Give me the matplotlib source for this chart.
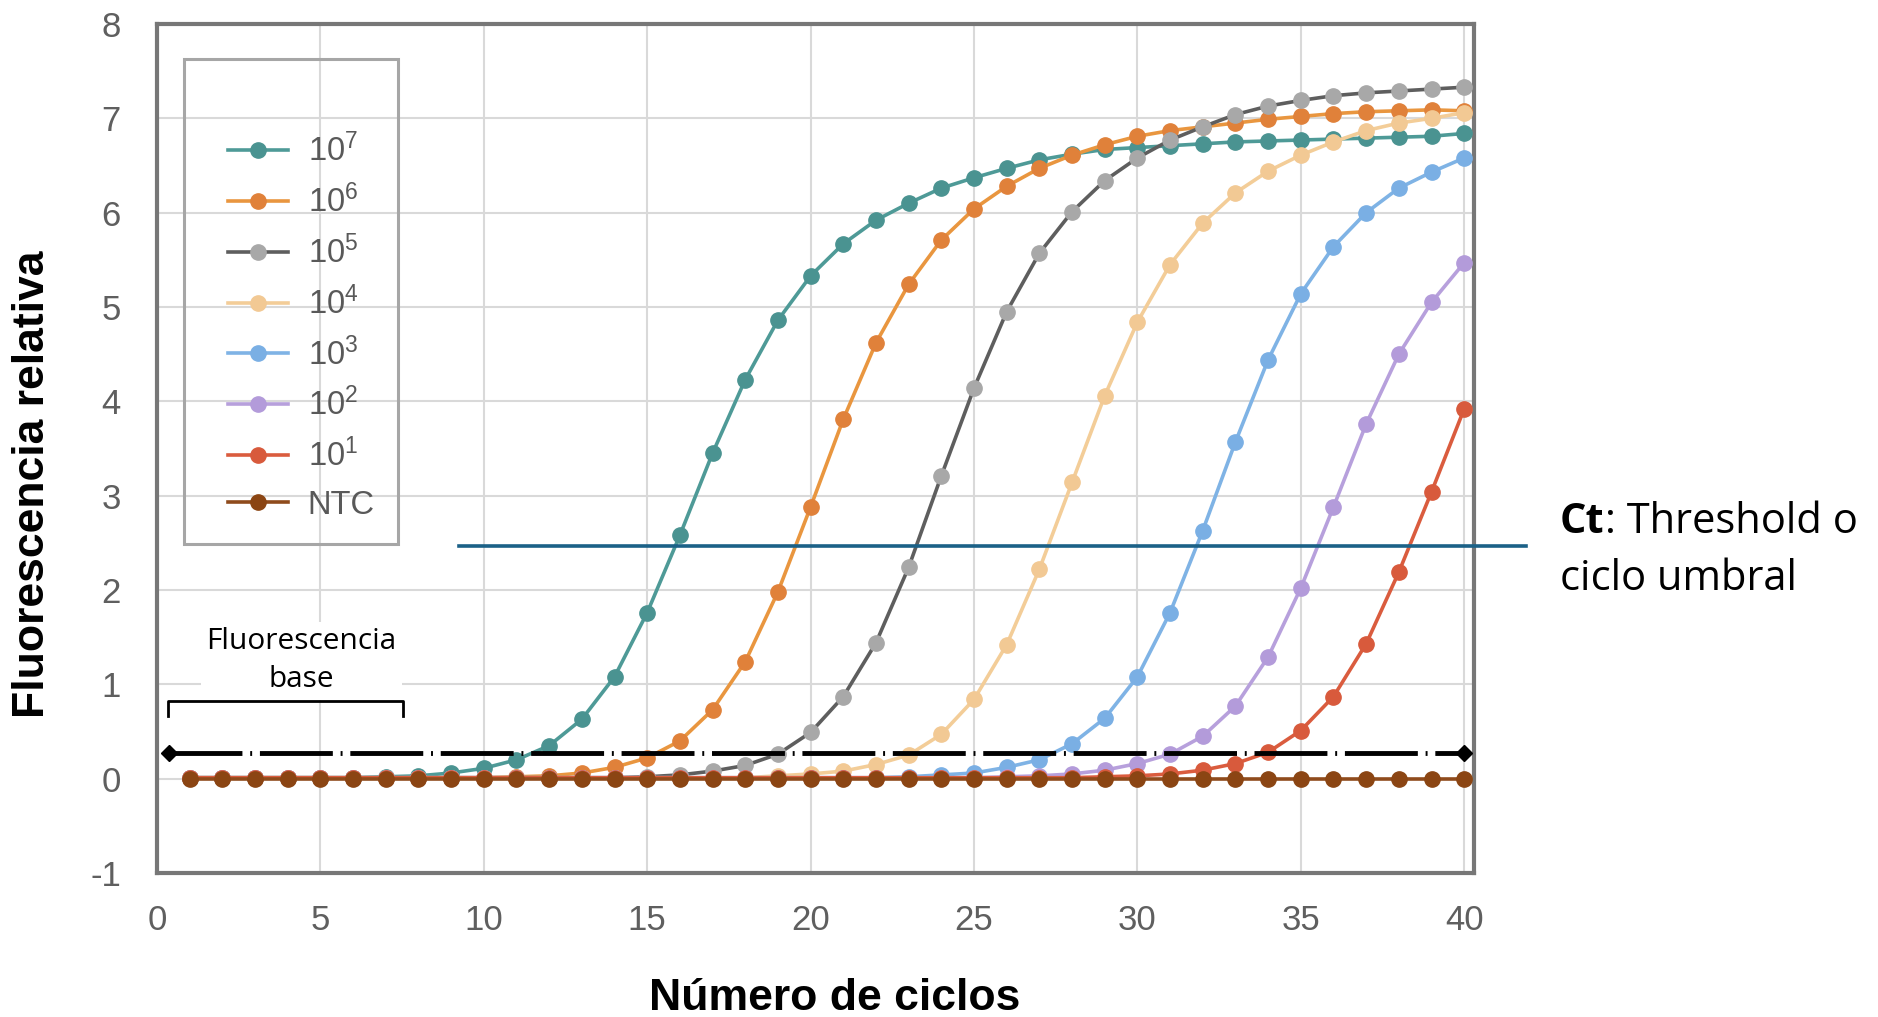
import matplotlib.pyplot as plt

# qPCR amplification curves
cycles = list(range(1, 41))

s_1e7 = [0.01, 0.01, 0.01, 0.01, 0.01, 0.01, 0.02, 0.03, 0.06, 0.11,
         0.20, 0.35, 0.63, 1.08, 1.76, 2.58, 3.45, 4.23, 4.86, 5.33,
         5.67, 5.92, 6.10, 6.26, 6.37, 6.47, 6.56, 6.62, 6.67, 6.69,
         6.71, 6.73, 6.75, 6.76, 6.77, 6.78, 6.79, 6.80, 6.81, 6.84]
s_1e6 = [0.01, 0.01, 0.01, 0.01, 0.01, 0.01, 0.01, 0.01, 0.01, 0.01,
         0.02, 0.03, 0.06, 0.12, 0.22, 0.40, 0.73, 1.24, 1.98, 2.88,
         3.81, 4.62, 5.24, 5.71, 6.04, 6.28, 6.47, 6.61, 6.72, 6.81,
         6.87, 6.91, 6.95, 6.99, 7.02, 7.05, 7.07, 7.08, 7.09, 7.08]
s_1e5 = [0.01, 0.01, 0.01, 0.01, 0.01, 0.01, 0.01, 0.01, 0.01, 0.01,
         0.01, 0.01, 0.01, 0.01, 0.02, 0.04, 0.08, 0.14, 0.26, 0.49,
         0.87, 1.44, 2.24, 3.21, 4.14, 4.95, 5.57, 6.01, 6.34, 6.58,
         6.77, 6.91, 7.04, 7.13, 7.19, 7.24, 7.27, 7.29, 7.31, 7.33]
s_1e4 = [0.01, 0.01, 0.01, 0.01, 0.01, 0.01, 0.01, 0.01, 0.01, 0.01,
         0.01, 0.01, 0.01, 0.01, 0.01, 0.01, 0.01, 0.01, 0.03, 0.05,
         0.08, 0.15, 0.25, 0.47, 0.84, 1.42, 2.22, 3.14, 4.06, 4.84,
         5.45, 5.89, 6.21, 6.44, 6.61, 6.75, 6.87, 6.95, 7.00, 7.06]
s_1e3 = [0.01, 0.01, 0.01, 0.01, 0.01, 0.01, 0.01, 0.01, 0.01, 0.01,
         0.01, 0.01, 0.01, 0.01, 0.01, 0.01, 0.01, 0.01, 0.01, 0.01,
         0.01, 0.01, 0.02, 0.04, 0.06, 0.12, 0.20, 0.37, 0.64, 1.08,
         1.76, 2.63, 3.57, 4.44, 5.14, 5.64, 6.00, 6.26, 6.43, 6.58]
s_1e2 = [0.01, 0.01, 0.01, 0.01, 0.01, 0.01, 0.01, 0.01, 0.01, 0.01,
         0.01, 0.01, 0.01, 0.01, 0.01, 0.01, 0.01, 0.01, 0.01, 0.01,
         0.01, 0.01, 0.01, 0.01, 0.01, 0.02, 0.03, 0.05, 0.09, 0.16,
         0.26, 0.45, 0.77, 1.29, 2.02, 2.88, 3.76, 4.50, 5.05, 5.47]
s_1e1 = [0.01, 0.01, 0.01, 0.01, 0.01, 0.01, 0.01, 0.01, 0.01, 0.01,
         0.01, 0.01, 0.01, 0.01, 0.01, 0.01, 0.01, 0.01, 0.01, 0.01,
         0.01, 0.01, 0.01, 0.01, 0.01, 0.01, 0.01, 0.01, 0.02, 0.03,
         0.05, 0.09, 0.16, 0.28, 0.51, 0.87, 1.43, 2.19, 3.04, 3.92]
s_ntc = [0.0] * 40

series = [s_1e7, s_1e6, s_1e5, s_1e4, s_1e3, s_1e2, s_1e1, s_ntc]
labels = [r'$\mathregular{10^{7}}$', r'$\mathregular{10^{6}}$',
          r'$\mathregular{10^{5}}$', r'$\mathregular{10^{4}}$',
          r'$\mathregular{10^{3}}$', r'$\mathregular{10^{2}}$',
          r'$\mathregular{10^{1}}$', 'NTC']
line_colors = ['#4E9A97', '#E9963F', '#5E5E5E', '#F3CD98',
               '#7FB3E5', '#B7A0DC', '#DA5C3E', '#8F4B1C']
marker_colors = ['#4A9391', '#E0813A', '#A8A8A8', '#F2C994',
                 '#7AAFE4', '#B39BDA', '#D85A3C', '#8B4513']

# annotations
threshold = 2.47
threshold_x = [9.24, 41.9]
baseline = 0.27
baseline_x = [0.37, 40.0]
bracket_x = [0.34, 0.34, 7.53, 7.53]
bracket_y = [0.66, 0.82, 0.82, 0.66]

plt.rcParams['font.family'] = ['Liberation Sans', 'DejaVu Sans']
plt.rcParams['mathtext.fontset'] = 'custom'
plt.rcParams['mathtext.rm'] = 'Liberation Sans'
plt.rcParams['axes.unicode_minus'] = False

W, H = 1878, 1017
fig = plt.figure(figsize=(W / 100, H / 100), dpi=100)
ax = fig.add_axes([157 / W, 144 / H, 1317 / W, 849 / H])

for vals, lab, lc, mc in zip(series, labels, line_colors, marker_colors):
    ax.plot(cycles, vals, color=lc, lw=2.6, marker='o', markersize=11,
            markerfacecolor=mc, markeredgecolor=mc, label=lab, zorder=3)

# baseline (dashed) with diamond ends
ax.plot(baseline_x, [baseline, baseline], color='black', lw=3.5,
        dashes=(15, 1.6, 0.4, 1.6), zorder=5)
ax.plot(baseline_x, [baseline, baseline], ls='none', marker='D',
        markersize=8, color='black', zorder=5)

# threshold line, runs past the right spine
ax.plot(threshold_x, [threshold, threshold], color='#1B6187', lw=2.6,
        clip_on=False, zorder=6)

# bracket for the baseline zone
ax.plot(bracket_x, bracket_y, color='black', lw=2, zorder=5)
ax.text(4.42, 1.25, 'Fluorescencia\nbase', ha='center', va='center',
        family=['Open Sans', 'DejaVu Sans'], fontsize=21.5,
        linespacing=1.4, zorder=4,
        bbox=dict(facecolor='white', edgecolor='none', pad=4))

ax.set_xlim(0, 40.3)
ax.set_ylim(-1, 8)
ax.set_xticks(range(0, 41, 5))
ax.set_yticks(range(-1, 9))
ax.grid(True, color='#D9D9D9', lw=1.5)
ax.set_axisbelow(True)
ax.tick_params(length=0, labelsize=25, labelcolor='#5F5F5F')
ax.tick_params(axis='y', pad=26)
ax.tick_params(axis='x', pad=22)
for sp in ax.spines.values():
    sp.set_color('#777777')
    sp.set_linewidth(3)

leg = ax.legend(loc='upper left', bbox_to_anchor=(0.0205, 0.959),
                borderaxespad=0, fontsize=23.5, title=' ' * 16,
                title_fontsize=27.3, alignment='right', borderpad=0.7,
                labelspacing=0.5, handlelength=1.85, handletextpad=0.6,
                fancybox=False, framealpha=1)
leg.get_frame().set_facecolor('none')
leg.get_frame().set_edgecolor('#A6A6A6')
leg.get_frame().set_linewidth(2.2)
for t in leg.get_texts():
    t.set_color('#595959')

fig.text(33 / W, 1 - 484 / H, 'Fluorescencia relativa', rotation=90,
         ha='center', va='center', fontsize=32, weight='bold')
fig.text(835 / W, 1 - 998 / H, 'Número de ciclos', ha='center',
         va='center', fontsize=32, weight='bold')

ct = fig.text(1560 / W, 1 - 533 / H, 'Ct', family=['Open Sans', 'DejaVu Sans'],
              weight='bold', fontsize=30, va='baseline')
ax.annotate(': Threshold o', xy=(1, 0), xycoords=ct, va='bottom',
            ha='left', family=['Open Sans', 'DejaVu Sans'], fontsize=30,
            annotation_clip=False)
fig.text(1560 / W, 1 - 590 / H, 'ciclo umbral',
         family=['Open Sans', 'DejaVu Sans'], fontsize=30, va='baseline')

fig.savefig('out.png', dpi=100)
